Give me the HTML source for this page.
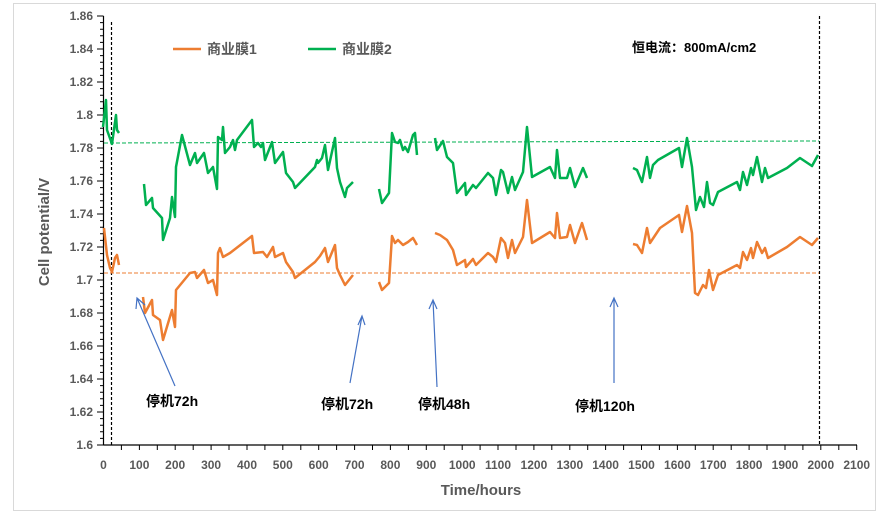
<!DOCTYPE html>
<html><head><meta charset="utf-8"><style>
body{margin:0;background:#fff;}
svg text{font-family:"Liberation Sans","Noto Sans CJK SC",sans-serif;}
</style></head><body>
<svg width="888" height="523" viewBox="0 0 888 523" xmlns="http://www.w3.org/2000/svg">
<rect x="13.5" y="3.5" width="862" height="507" fill="#fff" stroke="#d9d9d9" stroke-width="1"/>
<g id="axes" stroke="#000" stroke-width="1.2">
<line x1="103.5" y1="16" x2="103.5" y2="445"/>
<line x1="103.5" y1="445" x2="857" y2="445"/>
</g>
<g stroke="#000" stroke-width="1">
<path d="M97 16H103.5M97 49H103.5M97 82H103.5M97 115H103.5M97 148H103.5M97 181H103.5M97 214H103.5M97 247H103.5M97 280H103.5M97 313H103.5M97 346H103.5M97 379H103.5M97 412H103.5M97 445H103.5"/>
<path d="M100 22.6H103.5M100 29.2H103.5M100 35.8H103.5M100 42.4H103.5M100 55.6H103.5M100 62.2H103.5M100 68.8H103.5M100 75.4H103.5M100 88.6H103.5M100 95.2H103.5M100 101.8H103.5M100 108.4H103.5M100 121.6H103.5M100 128.2H103.5M100 134.8H103.5M100 141.4H103.5M100 154.6H103.5M100 161.2H103.5M100 167.8H103.5M100 174.4H103.5M100 187.6H103.5M100 194.2H103.5M100 200.8H103.5M100 207.4H103.5M100 220.6H103.5M100 227.2H103.5M100 233.8H103.5M100 240.4H103.5M100 253.6H103.5M100 260.2H103.5M100 266.8H103.5M100 273.4H103.5M100 286.6H103.5M100 293.2H103.5M100 299.8H103.5M100 306.4H103.5M100 319.6H103.5M100 326.2H103.5M100 332.8H103.5M100 339.4H103.5M100 352.6H103.5M100 359.2H103.5M100 365.8H103.5M100 372.4H103.5M100 385.6H103.5M100 392.2H103.5M100 398.8H103.5M100 405.4H103.5M100 418.6H103.5M100 425.2H103.5M100 431.8H103.5M100 438.4H103.5"/>
<path d="M121.4 445v5M139.4 445v5M157.3 445v5M175.2 445v5M193.2 445v5M211.1 445v5M229 445v5M247 445v5M264.9 445v5M282.8 445v5M300.8 445v5M318.7 445v5M336.6 445v5M354.6 445v5M372.5 445v5M390.4 445v5M408.4 445v5M426.3 445v5M444.2 445v5M462.2 445v5M480.1 445v5M498 445v5M516 445v5M533.9 445v5M551.8 445v5M569.8 445v5M587.7 445v5M605.6 445v5M623.6 445v5M641.5 445v5M659.4 445v5M677.4 445v5M695.3 445v5M713.2 445v5M731.2 445v5M749.1 445v5M767 445v5M785 445v5M802.9 445v5M820.8 445v5M838.8 445v5M856.7 445v5"/>
</g>
<g fill="#595959" font-size="12" font-weight="bold" text-anchor="end">
<text x="93" y="20">1.86</text><text x="93" y="53">1.84</text><text x="93" y="86">1.82</text><text x="93" y="119">1.8</text><text x="93" y="152">1.78</text><text x="93" y="185">1.76</text><text x="93" y="218">1.74</text><text x="93" y="251">1.72</text><text x="93" y="284">1.7</text><text x="93" y="317">1.68</text><text x="93" y="350">1.66</text><text x="93" y="383">1.64</text><text x="93" y="416">1.62</text><text x="93" y="449">1.6</text>
</g>
<g fill="#595959" font-size="12" font-weight="bold" text-anchor="middle">
<text x="103.5" y="469">0</text><text x="139.4" y="469">100</text><text x="175.2" y="469">200</text><text x="211.1" y="469">300</text><text x="247" y="469">400</text><text x="282.8" y="469">500</text><text x="318.7" y="469">600</text><text x="354.6" y="469">700</text><text x="390.4" y="469">800</text><text x="426.3" y="469">900</text><text x="462.2" y="469">1000</text><text x="498" y="469">1100</text><text x="533.9" y="469">1200</text><text x="569.8" y="469">1300</text><text x="605.6" y="469">1400</text><text x="641.5" y="469">1500</text><text x="677.4" y="469">1600</text><text x="713.2" y="469">1700</text><text x="749.1" y="469">1800</text><text x="785" y="469">1900</text><text x="820.8" y="469">2000</text><text x="856.7" y="469">2100</text>
</g>
<text x="481" y="495" fill="#595959" font-size="15" font-weight="bold" text-anchor="middle">Time/hours</text>
<text transform="translate(49,232) rotate(-90)" fill="#595959" font-size="15" font-weight="bold" text-anchor="middle">Cell potential/V</text>
<g stroke="#000" stroke-width="1.2" stroke-dasharray="3,2">
<line x1="111.5" y1="22" x2="111.5" y2="447"/>
<line x1="819.5" y1="16" x2="819.5" y2="445"/>
</g>
<line x1="104" y1="143" x2="819" y2="141" stroke="#00b050" stroke-width="1" stroke-dasharray="4,2"/>
<line x1="104" y1="273" x2="819" y2="273" stroke="#ed7d31" stroke-width="1" stroke-dasharray="4,2"/>
<g fill="none" stroke="#00b050" stroke-width="2.5" stroke-linejoin="round">
<polyline points="103,127 106,100 107,130 112,144 116,115 117,130 119,133"/>
<polyline points="144,184 146,205 152,198 153,208 162,218 163,240 170,218 172,197 175,217 176,167 182,135 190,165 195,153 197,163 204,153 208,173 213,167 217,189 218,137 222,140 223,127 225,153 230,147 233,140 235,150 237,140 252,120 254,147 258,143 261,147 263,143 265,160 272,142 275,163 283,152 286,173 293,182 295,188 315,167 317,160 318,163 322,158 325,145 328,170 335,138 337,168 340,182 345,197 347,188 353,182"/>
<polyline points="379,189 382,203 389,193 392,133 395,142 398,143 400,140 403,150 405,147 408,152 413,135 415,133 417,155"/>
<polyline points="435,138 437,150 443,141 447,157 453,163 457,193 465,183 466,195 473,185 476,188 488,173 493,178 496,195 501,170 503,172 508,193 512,177 515,190 523,172 527,127 532,177 550,167 555,178 557,150 560,178 567,178 570,168 575,187 583,168 587,178"/>
<polyline points="633,168 637,170 642,182 647,157 650,178 653,165 658,160 679,148 682,167 687,138 692,167 696,210 700,197 704,207 707,182 710,203 713,205 718,192 737,182 740,190 743,172 747,185 751,168 753,175 757,157 762,182 765,168 768,178 787,168 800,158 812,166 818,155"/>
</g>
<g fill="none" stroke="#ed7d31" stroke-width="2.5" stroke-linejoin="round">
<polyline points="104,228 107,255 110,268 112,272 115,258 117,255 119,265"/>
<polyline points="143,297 145,313 152,300 153,315 160,320 163,340 172,310 175,327 176,290 190,273 195,272 197,278 204,270 208,283 213,280 217,295 218,253 220,248 223,257 230,253 252,236 254,253 263,252 267,257 273,247 275,257 283,253 286,262 293,272 295,278 315,262 320,256 325,248 328,262 335,245 337,268 340,275 345,285 353,275"/>
<polyline points="379,282 382,290 389,283 392,236 395,243 398,240 403,245 408,242 413,238 417,245"/>
<polyline points="435,233 440,235 447,240 453,250 457,265 465,260 466,267 473,259 476,265 488,253 493,257 496,262 501,238 505,243 508,258 512,240 515,253 523,237 527,200 532,243 550,232 555,238 557,213 560,238 567,237 570,225 575,243 582,223 587,240"/>
<polyline points="633,244 637,245 642,253 647,228 650,243 660,228 679,215 682,232 687,206 692,233 695,293 698,295 703,285 706,288 709,270 713,290 718,275 737,265 740,268 743,252 747,260 751,248 753,258 757,242 762,253 765,248 768,258 787,247 800,237 812,245 818,238"/>
</g>
<g stroke="#4472c4" stroke-width="1.2" fill="none">
<path d="M175 386L137 298M136 309L137 298L145 305"/>
<path d="M350 383L362 316M358 325L362 316L365 325"/>
<path d="M437 387L433 300M429 309L433 300L437 309"/>
<path d="M614 383L614 298M610 307L614 298L618 307"/>
</g>
<g fill="#000" font-size="14" font-weight="bold">
<text x="146" y="406">停机72h</text>
<text x="321" y="409">停机72h</text>
<text x="418" y="409">停机48h</text>
<text x="575" y="411">停机120h</text>
<text x="632" y="52" font-size="13">恒电流：800mA/cm2</text>
</g>
<line x1="173" y1="49" x2="201" y2="49" stroke="#ed7d31" stroke-width="2.5"/>
<line x1="308" y1="49" x2="336" y2="49" stroke="#00b050" stroke-width="2.5"/>
<g fill="#595959" font-size="14" font-weight="bold">
<text x="207" y="54">商业膜1</text>
<text x="342" y="54">商业膜2</text>
</g>
</svg>
</body></html>
